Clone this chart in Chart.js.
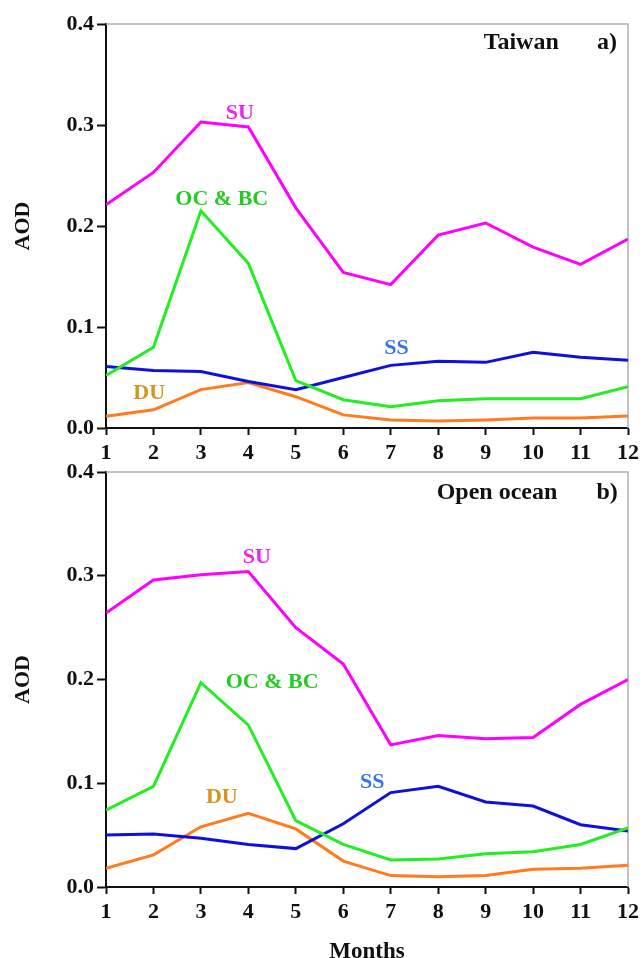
<!DOCTYPE html>
<html>
<head>
<meta charset="utf-8">
<script src="https://cdn.jsdelivr.net/npm/chart.js@4/dist/chart.umd.min.js"></script>
<style>
  body { margin: 0; background: #fff; overflow: hidden; }
  #wrapA { position: absolute; left: 0; top: 0; width: 644px; height: 460px; }
  #wrapB { position: absolute; left: 0; top: 455px; width: 644px; height: 503px; }
</style>
</head>
<body>
<div id="wrapA"><canvas id="chartA"></canvas></div>
<div id="wrapB"><canvas id="chartB"></canvas></div>
<script>
// Months 1..12
const months = [1, 2, 3, 4, 5, 6, 7, 8, 9, 10, 11, 12];
const yTicks = [0.0, 0.1, 0.2, 0.3, 0.4];

// a) Taiwan
const taiwanSU = [0.221, 0.253, 0.303, 0.298, 0.218, 0.154, 0.142, 0.191, 0.203, 0.179, 0.162, 0.187];
const taiwanOCBC = [0.052, 0.080, 0.215, 0.163, 0.047, 0.028, 0.021, 0.027, 0.029, 0.029, 0.029, 0.041];
const taiwanSS = [0.061, 0.057, 0.056, 0.046, 0.038, 0.050, 0.062, 0.066, 0.065, 0.075, 0.070, 0.067];
const taiwanDU = [0.0115, 0.018, 0.038, 0.045, 0.031, 0.013, 0.008, 0.007, 0.008, 0.010, 0.010, 0.012];

// b) Open ocean
const oceanSU = [0.264, 0.296, 0.301, 0.304, 0.250, 0.215, 0.137, 0.146, 0.143, 0.144, 0.176, 0.200];
const oceanOCBC = [0.074, 0.097, 0.197, 0.156, 0.064, 0.041, 0.026, 0.027, 0.032, 0.034, 0.041, 0.057];
const oceanSS = [0.050, 0.051, 0.047, 0.041, 0.037, 0.061, 0.091, 0.097, 0.082, 0.078, 0.060, 0.054];
const oceanDU = [0.018, 0.031, 0.058, 0.071, 0.056, 0.025, 0.011, 0.010, 0.011, 0.017, 0.018, 0.021];

const FONT = '"Liberation Serif", "Times New Roman", serif';

const colors = {
    SU: { line: '#ff00ff', text: '#ee22ee' },
    OCBC: { line: '#22ee22', text: '#22cc22' },
    SS: { line: '#1010dd', text: '#3b73e6' },
    DU: { line: '#ff7b1c', text: '#d4951e' }
};

// grey frame on top/right + text notes at data coordinates
const notesPlugin = {
    id: 'notes',
    beforeDatasetsDraw(chart) {
        const { ctx, chartArea: a } = chart;
        ctx.save();
        ctx.strokeStyle = '#b0b0b0';
        ctx.lineWidth = 1.5;
        ctx.beginPath();
        ctx.moveTo(a.left, a.top);
        ctx.lineTo(a.right, a.top);
        ctx.lineTo(a.right, a.bottom);
        ctx.stroke();
        ctx.restore();
    },
    afterDatasetsDraw(chart, args, opts) {
        const { ctx } = chart;
        const xs = chart.scales.x, ys = chart.scales.y;
        ctx.save();
        ctx.textAlign = 'center';
        ctx.textBaseline = 'middle';
        (opts.items || []).forEach(n => {
            ctx.font = 'bold ' + (n.size || 22) + 'px ' + FONT;
            ctx.fillStyle = n.color;
            ctx.fillText(n.text, xs.getPixelForValue(n.x), ys.getPixelForValue(n.y));
        });
        ctx.restore();
    }
};

function series(label, data, color) {
    return {
        label: label,
        data: months.map((m, i) => ({ x: m, y: data[i] })),
        borderColor: color,
        borderWidth: 3,
        pointRadius: 0,
        tension: 0,
        fill: false
    };
}

function makeChart(id, sets, notes, xHeight, topPad, showMonths) {
    return new Chart(document.getElementById(id), {
        type: 'line',
        data: {
            datasets: [
                series('SU', sets[0], colors.SU.line),
                series('OC & BC', sets[1], colors.OCBC.line),
                series('SS', sets[2], colors.SS.line),
                series('DU', sets[3], colors.DU.line)
            ]
        },
        options: {
            responsive: true,
            maintainAspectRatio: false,
            animation: false,
            layout: { padding: { top: topPad, right: 16, left: 0, bottom: 0 } },
            plugins: {
                legend: { display: false },
                tooltip: { enabled: false },
                notes: { items: notes }
            },
            scales: {
                x: {
                    type: 'linear',
                    min: 1,
                    max: 12,
                    afterBuildTicks: s => { s.ticks = months.map(v => ({ value: v })); },
                    afterFit: s => { s.height = xHeight; },
                    border: { color: '#111', width: 2 },
                    grid: { drawOnChartArea: false, drawTicks: true, tickLength: 7, tickWidth: 2, color: '#111' },
                    ticks: {
                        color: '#111',
                        padding: 5,
                        maxRotation: 0,
                        font: { family: FONT, size: 22, weight: 'bold' },
                        callback: v => String(v)
                    },
                    title: {
                        display: showMonths,
                        text: 'Months',
                        color: '#111',
                        padding: { top: 0, bottom: -8 },
                        font: { family: FONT, size: 23, weight: 'bold' }
                    }
                },
                y: {
                    min: 0,
                    max: 0.4,
                    afterBuildTicks: s => { s.ticks = yTicks.map(v => ({ value: v })); },
                    afterFit: s => { s.width = 106; },
                    border: { color: '#111', width: 2 },
                    grid: { drawOnChartArea: false, drawTicks: true, tickLength: 9, tickWidth: 2, color: '#111' },
                    ticks: {
                        color: '#111',
                        padding: 3,
                        font: { family: FONT, size: 22, weight: 'bold' },
                        callback: v => v.toFixed(1)
                    },
                    title: {
                        display: true,
                        text: 'AOD',
                        color: '#111',
                        padding: { top: 10, bottom: 0 },
                        font: { family: FONT, size: 22, weight: 'bold' }
                    }
                }
            }
        },
        plugins: [notesPlugin]
    });
}

makeChart('chartA',
    [taiwanSU, taiwanOCBC, taiwanSS, taiwanDU],
    [
        { text: 'SU', x: 3.82, y: 0.312, color: colors.SU.text },
        { text: 'OC & BC', x: 3.44, y: 0.226, color: colors.OCBC.text },
        { text: 'SS', x: 7.12, y: 0.079, color: colors.SS.text },
        { text: 'DU', x: 1.91, y: 0.034, color: colors.DU.text },
        { text: 'Taiwan', x: 9.75, y: 0.381, color: '#111', size: 24 },
        { text: 'a)', x: 11.56, y: 0.381, color: '#111', size: 24 }
    ],
    32, 24, false);

makeChart('chartB',
    [oceanSU, oceanOCBC, oceanSS, oceanDU],
    [
        { text: 'SU', x: 4.18, y: 0.318, color: colors.SU.text },
        { text: 'OC & BC', x: 4.5, y: 0.197, color: colors.OCBC.text },
        { text: 'SS', x: 6.61, y: 0.101, color: colors.SS.text },
        { text: 'DU', x: 3.44, y: 0.086, color: colors.DU.text },
        { text: 'Open ocean', x: 9.24, y: 0.380, color: '#111', size: 24 },
        { text: 'b)', x: 11.56, y: 0.380, color: '#111', size: 24 }
    ],
    71, 17, true);
</script>
</body>
</html>
